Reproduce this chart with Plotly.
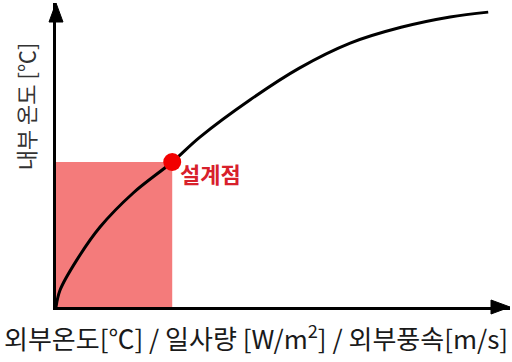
import plotly.graph_objects as go

# Response curve: interior temperature vs. exterior load (relative units)
load = [0.0, 0.9, 4.6, 9.7, 17.0, 25.6, 31.7, 42.7, 53.5, 64.8, 76.0, 86.8, 95.2]
temp = [0.0, 5.6, 15.5, 26.3, 37.5, 47.7, 55.9, 68.1, 78.5, 86.8, 92.0, 95.4, 97.0]

# Design point on the curve
design_x = [25.6]
design_y = [47.7]
design_label = "<b>설계점</b>"

x_title = "외부온도[℃] / 일사량 [W/m<sup>2</sup>] / 외부풍속[m/s]"
y_title = "내부 온도 [℃]"

FONT = "Noto Sans CJK KR"

fig = go.Figure()

# shaded region under the design point
fig.add_shape(type="rect", xref="x", yref="y",
              x0=0, x1=design_x[0], y0=0, y1=design_y[0],
              fillcolor="#F47B7B", line=dict(width=0), layer="below")

fig.add_trace(go.Scatter(x=load, y=temp, mode="lines",
                         line=dict(color="black", width=3, shape="spline"),
                         hoverinfo="skip"))

fig.add_trace(go.Scatter(x=design_x, y=design_y, mode="markers",
                         marker=dict(color="#F20000", size=18),
                         hoverinfo="skip"))

fig.add_annotation(x=design_x[0], y=design_y[0], xref="x", yref="y",
                   text=design_label, showarrow=False,
                   xanchor="left", yanchor="middle", xshift=6, yshift=-11,
                   font=dict(family=FONT, size=22, color="#D8202B"))

# arrowheads at the ends of both axes
fig.add_shape(type="path", xref="paper", yref="paper",
              xsizemode="pixel", ysizemode="pixel", xanchor=1, yanchor=0,
              path="M -19,-7 L 0,0 L -19,7 Z",
              fillcolor="black", line=dict(color="black", width=1))
fig.add_shape(type="path", xref="paper", yref="paper",
              xsizemode="pixel", ysizemode="pixel", xanchor=0, yanchor=1,
              path="M -7,-19 L 0,0 L 7,-19 Z",
              fillcolor="black", line=dict(color="black", width=1))

fig.add_annotation(x=0.5, y=0, xref="paper", yref="paper",
                   text=x_title, showarrow=False,
                   xanchor="center", yanchor="top", yshift=-8, xshift=-27,
                   font=dict(family=FONT, size=26, color="#1a1a1a"))
fig.add_annotation(x=0, y=0.66, xref="paper", yref="paper",
                   text=y_title, showarrow=False, textangle=-90,
                   xanchor="center", yanchor="middle", xshift=-31,
                   font=dict(family=FONT, size=22, color="#333333"))

fig.update_xaxes(range=[0, 100], showline=True, linecolor="black", linewidth=3,
                 showgrid=False, zeroline=False, showticklabels=False, ticks="")
fig.update_yaxes(range=[0, 100], showline=True, linecolor="black", linewidth=3,
                 showgrid=False, zeroline=False, showticklabels=False, ticks="")

fig.update_layout(width=512, height=362,
                  margin=dict(l=56, r=2, t=3, b=55),
                  plot_bgcolor="white", paper_bgcolor="white",
                  showlegend=False)

fig.write_html("out.html")
